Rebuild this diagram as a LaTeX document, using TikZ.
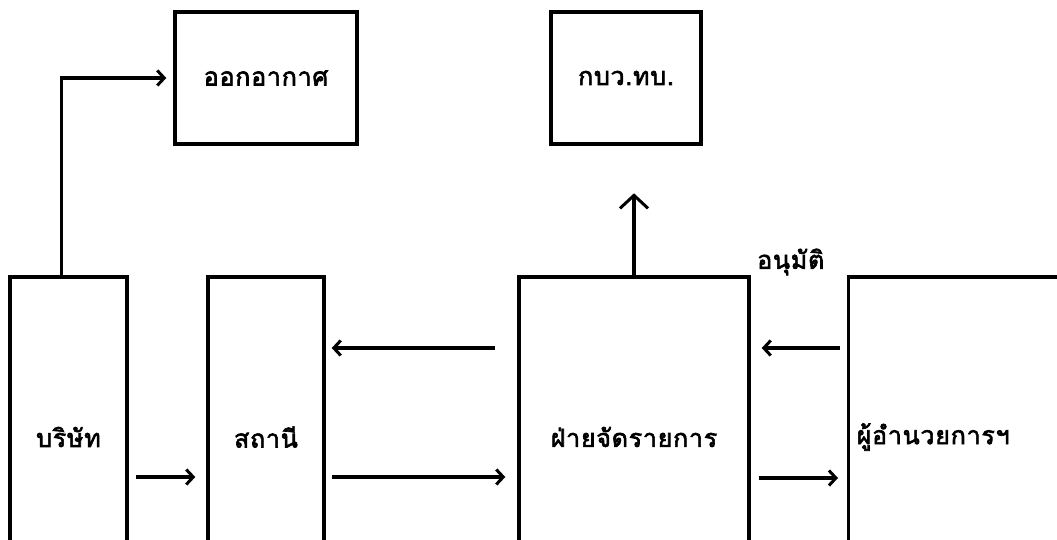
\documentclass[tikz,border=0pt]{standalone}
\usepackage{fontspec}
\newfontfamily\thai[Script=Thai,LetterSpace=3,FakeBold=2.5]{Loma}
\usetikzlibrary{arrows.meta,calc}
\tikzset{
  box/.style={draw,line width=3.4pt,inner sep=0pt,font=\thai\fontsize{25}{28}\selectfont},
  arr/.style={line width=3.1pt,-{Straight Barb[length=7pt,width=15pt,line width=3pt]}},
  uparr/.style={line width=3.1pt,-{Straight Barb[length=13pt,width=28pt,line width=3pt]}},
  lbl/.style={font=\thai\fontsize{25}{28}\selectfont,inner sep=0pt}
}
\begin{document}
\begin{tikzpicture}[x=1pt,y=-1pt]
\useasboundingbox[fill=white] (0,0) rectangle (1057,540);
\node[box,minimum width=182,minimum height=132] (oa) at (266,78) {ออกอากาศ};
\node[box,minimum width=150,minimum height=132] (kbw) at (626,78) {กบว.ทบ.};
\node[box,minimum width=117,minimum height=320] (bor) at (68.5,437) {บริษัท};
\node[box,minimum width=116,minimum height=320] (sta) at (266,437) {สถานี};
\node[box,minimum width=230,minimum height=320] (faj) at (634,437) {ฝ่ายจัดรายการ};
\node[box,minimum height=320,text width=250,align=left,inner xsep=8pt,anchor=west] (dir) at (847,437) {ผู้อำนวยการฯ};
\node[lbl,anchor=west] (appr) at (757,262) {อนุมัติ};
% connectors
\draw[arr] ($(bor.north)+(-7,0)$) |- ($(oa.west)+(-7,0)$);
\draw[uparr] (faj.north) -- ++(0,-82);
\draw[arr] ($(bor.east)+(7,40)$) -- ($(sta.west)+(-11,40)$);
\draw[arr] ($(sta.east)+(6,40)$) -- ($(faj.west)+(-12,40)$);
\draw[arr] ($(faj.west)+(-22,-89)$) -- ($(sta.east)+(6,-89)$);
\draw[arr] ($(faj.east)+(8,41)$) -- ($(dir.west)+(-9,41)$);
\draw[arr] ($(dir.west)+(-7,-89)$) -- ($(faj.east)+(11,-89)$);
\end{tikzpicture}
\end{document}
